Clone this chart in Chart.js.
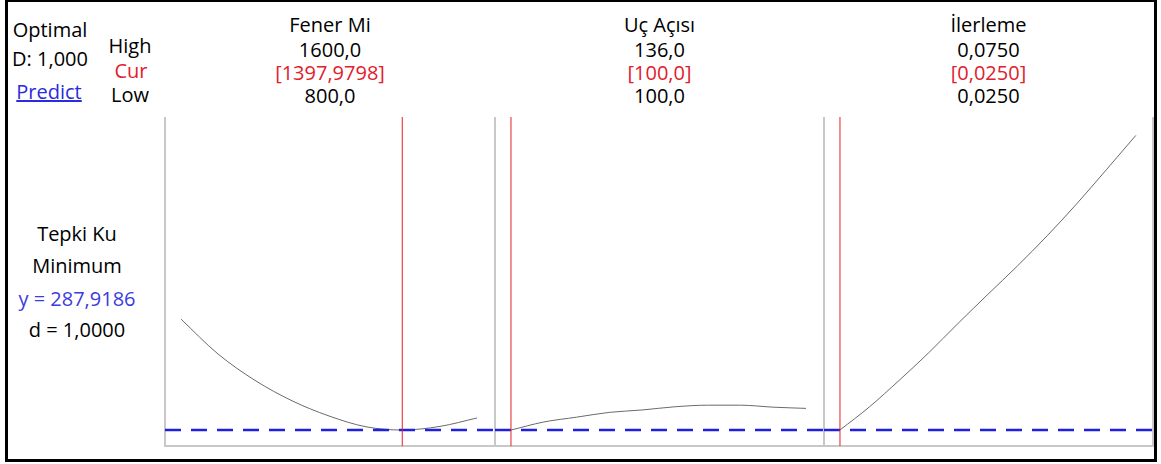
<!DOCTYPE html>
<html>
<head>
<meta charset="utf-8">
<script src="https://cdn.jsdelivr.net/npm/chart.js@4"></script>
<style>
body{margin:0;background:#fff;font-family:"Open Sans",sans-serif;}
#frame{position:absolute;left:5px;top:-1px;width:1152px;height:463px;border:3px solid #000;box-sizing:border-box;}
.lbl{position:absolute;white-space:nowrap;font-size:20px;line-height:24px;transform:translate(-50%,-50%);color:#000;}
canvas{position:absolute;}
</style>
</head>
<body>
<div id="frame"></div>
<div id="texts"></div>
<canvas id="c0"></canvas>
<canvas id="c1"></canvas>
<canvas id="c2"></canvas>
<script>
// factors and settings
var factors = ['Fener Mi', 'Uç Açısı', 'İlerleme'];
var highText = ['1600,0', '136,0', '0,0750'];
var curText = ['[1397,9798]', '[100,0]', '[0,0250]'];
var lowText = ['800,0', '100,0', '0,0250'];
var curValue = [1397.9798, 100, 0.025];

// response curves
var fenerX = [800, 900, 1000, 1100, 1200, 1300, 1397.9798, 1500, 1600];
var fenerY = [565, 478, 412, 361, 323, 296, 287.9186, 297, 318];
var ucX = [100, 104, 108, 112, 116, 120, 124, 128, 132, 136];
var ucY = [287.9186, 308, 320, 332, 338, 346, 350, 350, 345, 342];
var ilerX = [0.025, 0.030, 0.035, 0.040, 0.045, 0.050, 0.055, 0.060, 0.065, 0.070, 0.075];
var ilerY = [287.9186, 346, 412, 481, 555, 627, 698, 773, 853, 938, 1024];

var yTarget = 287.9186;
var yMin = 248, yMax = 1070;
// x ranges include the side margin minitab leaves
var xRange = [[756.8, 1648.6], [98.05, 138.2], [0.0223, 0.0779]];

var panelLeft = [165, 495, 824];
var panelWidth = [330, 329, 329];
var panelTop = 117, panelHeight = 329;
var pad = 3;

function label(text, x, y, color, extra){
  var d = document.createElement('div');
  d.className = 'lbl';
  d.textContent = text;
  d.style.left = x + 'px';
  d.style.top = y + 'px';
  if(color) d.style.color = color;
  if(extra) d.style.textDecoration = extra;
  document.getElementById('texts').appendChild(d);
}

label('Optimal', 50, 30);
label('D: 1,000', 50, 59);
label('Predict', 49, 92, '#2b2bdc', 'underline');
label('High', 130, 46);
label('Cur', 131, 71, '#e0202c');
label('Low', 130, 95);

label('Tepki Ku', 77, 234);
label('Minimum', 77, 266);
label('y = 287,9186', 77, 299, '#3b3be0');
label('d = 1,0000', 77, 330);

for(var i=0;i<3;i++){
  var cx = panelLeft[i] + panelWidth[i]/2;
  label(factors[i], cx, 25);
  label(highText[i], cx, 50);
  label(curText[i], cx, 73, '#e0202c');
  label(lowText[i], cx, 96);
}

var panelBorder = {
  id: 'panelBorder',
  beforeDatasetsDraw: function(chart){
    var a = chart.chartArea, ctx = chart.ctx;
    ctx.save();
    ctx.strokeStyle = '#c8c8c8';
    ctx.lineWidth = 2;
    ctx.beginPath();
    ctx.moveTo(a.left, a.top);
    ctx.lineTo(a.left, a.bottom);
    ctx.lineTo(a.right, a.bottom);
    ctx.lineTo(a.right, a.top);
    ctx.stroke();
    ctx.restore();
  }
};

function toPoints(xs, ys){
  var pts = [];
  for(var k=0;k<xs.length;k++) pts.push({x: xs[k], y: ys[k]});
  return pts;
}

function drawPanel(i, xs, ys){
  var cv = document.getElementById('c' + i);
  cv.width = panelWidth[i] + 2*pad;
  cv.height = panelHeight + 2*pad;
  cv.style.left = (panelLeft[i] - pad) + 'px';
  cv.style.top = (panelTop - pad) + 'px';
  new Chart(cv, {
    type: 'line',
    data: {
      datasets: [
        { // current setting
          data: [{x: curValue[i], y: yMin}, {x: curValue[i], y: yMax}],
          borderColor: '#e32020', borderWidth: 1, pointRadius: 0
        },
        { // target y
          data: [{x: xRange[i][0], y: yTarget}, {x: xRange[i][1], y: yTarget}],
          borderColor: '#1f1fe0', borderWidth: 2.5, borderDash: [16, 10], pointRadius: 0
        },
        {
          data: toPoints(xs, ys),
          borderColor: '#6a6a6a', borderWidth: 1, pointRadius: 0,
          cubicInterpolationMode: 'monotone'
        }
      ]
    },
    options: {
      responsive: false,
      animation: false,
      layout: {padding: pad},
      plugins: {legend: {display: false}, tooltip: {enabled: false}},
      scales: {
        x: {type: 'linear', display: false, min: xRange[i][0], max: xRange[i][1]},
        y: {display: false, min: yMin, max: yMax}
      }
    },
    plugins: [panelBorder]
  });
}

drawPanel(0, fenerX, fenerY);
drawPanel(1, ucX, ucY);
drawPanel(2, ilerX, ilerY);
</script>
</body>
</html>
